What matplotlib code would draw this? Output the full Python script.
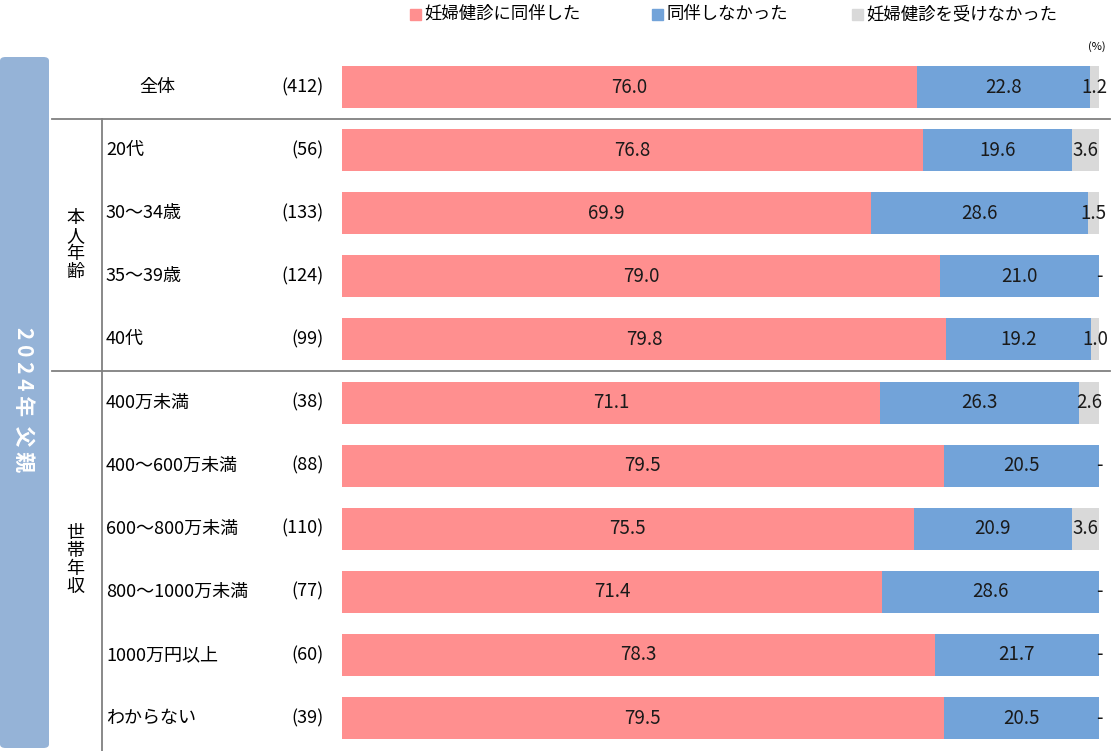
import numpy as np
import matplotlib.pyplot as plt
from matplotlib.patches import FancyBboxPatch, Rectangle
from matplotlib.transforms import blended_transform_factory

plt.rcParams['font.family'] = ['Noto Sans CJK JP', 'DejaVu Sans']

# Data
labels = ['全体', '20代', '30～34歳', '35～39歳', '40代', '400万未満', '400～600万未満',
          '600～800万未満', '800～1000万未満', '1000万円以上', 'わからない']
counts = [412, 56, 133, 124, 99, 38, 88, 110, 77, 60, 39]
accompanied = [76.0, 76.8, 69.9, 79.0, 79.8, 71.1, 79.5, 75.5, 71.4, 78.3, 79.5]
not_accompanied = [22.8, 19.6, 28.6, 21.0, 19.2, 26.3, 20.5, 20.9, 28.6, 21.7, 20.5]
no_checkup = [1.2, 3.6, 1.5, 0.0, 1.0, 2.6, 0.0, 3.6, 0.0, 0.0, 0.0]
series_names = ['妊婦健診に同伴した', '同伴しなかった', '妊婦健診を受けなかった']
colors = ['#FF8F8F', '#72A3D9', '#D9D9D9']

W, H = 1116, 751
fig = plt.figure(figsize=(W / 100, H / 100), dpi=100)

def fx(px):
    return px / W

def fy(py):
    return 1 - py / H

ax = fig.add_axes([fx(342), fy(749.6), fx(1099) - fx(342), (749.6 - 55.5) / H])
y = np.arange(len(labels))
left = np.zeros(len(labels))
for vals, c in zip([accompanied, not_accompanied, no_checkup], colors):
    vals = np.array(vals)
    ax.barh(y, vals, left=left, height=0.665, color=c, linewidth=0)
    for yi, l, v in zip(y, left, vals):
        txt = f'{v:.1f}' if v > 0 else '-'
        ax.text(l + v / 2, yi, txt, ha='center', va='center', fontsize=13.5, color='#1a1a1a')
    left += vals
ax.set_xlim(0, 100)
ax.set_ylim(len(labels) - 0.5, -0.5)
ax.axis('off')

tr = blended_transform_factory(fig.transFigure, ax.transData)
for i, (lab, n) in enumerate(zip(labels, counts)):
    if i == 0:
        ax.text(fx(157), i, lab, transform=tr, ha='center', va='center', fontsize=13)
    else:
        ax.text(fx(106), i, lab, transform=tr, ha='left', va='center', fontsize=13)
    ax.text(fx(324), i, f'({n})', transform=tr, ha='right', va='center', fontsize=13)

# separators
line_kw = dict(color='#808080', linewidth=1.3, transform=tr, clip_on=False)
ax.plot([fx(52), fx(1110)], [0.5, 0.5], **line_kw)
ax.plot([fx(52), fx(1110)], [4.5, 4.5], **line_kw)
ax.plot([fx(102), fx(102)], [0.5, 10.6], **line_kw)

# group labels (stacked vertical)
ax.text(fx(75), 2.5, '本\n人\n年\n齢', transform=tr, ha='center', va='center',
        fontsize=13, linespacing=1.0)
ax.text(fx(75), 7.5, '世\n帯\n年\n収', transform=tr, ha='center', va='center',
        fontsize=13, linespacing=1.0)

# left panel
panel = FancyBboxPatch((fx(0), fy(748)), fx(49), (748 - 57) / H,
                       boxstyle='round,pad=0,rounding_size=0.005',
                       transform=fig.transFigure, facecolor='#95B3D7', edgecolor='none')
fig.patches.append(panel)
fig.text(fx(24), fy(400), '2 0 2 4 年  父 親', rotation=270, ha='center', va='center',
         color='white', fontsize=15, fontweight='bold')

# legend
leg_x = [410, 652, 852]
for lx, name, c in zip(leg_x, series_names, colors):
    fig.patches.append(Rectangle((fx(lx), fy(20)), fx(11), 11 / H, color=c,
                                 transform=fig.transFigure))
    fig.text(fx(lx + 14), fy(14), name, ha='left', va='center', fontsize=12.5)

fig.text(fx(1097), fy(47), '(%)', ha='center', va='center', fontsize=8)

fig.savefig('out.png', dpi=100)
